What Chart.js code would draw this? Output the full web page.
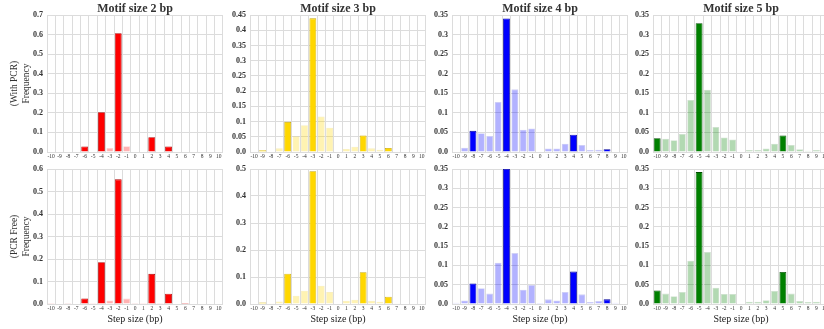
<!DOCTYPE html>
<html>
<head>
<meta charset="utf-8">
<script src="https://cdn.jsdelivr.net/npm/chart.js@4"></script>
<style>
html,body{margin:0;padding:0;background:#fff;}
#wrap{position:relative;width:824px;height:329px;overflow:hidden;background:#fff;}
canvas{position:absolute;}
</style>
</head>
<body>
<div id="wrap"></div>
<script>
// ---- data ----
const steps = [-10,-9,-8,-7,-6,-5,-4,-3,-2,-1,0,1,2,3,4,5,6,7,8,9,10];
const motifSizes = [2,3,4,5];
const panelTitles = ['Motif size 2 bp','Motif size 3 bp','Motif size 4 bp','Motif size 5 bp'];
const rowLabels = [['(With PCR)','Frequency'],['(PCR Free)','Frequency']];
const xTitle = 'Step size (bp)';
const xTickLabels = ['-10','-9','-8','-7','-6','-5','-4','-3','-2','-1','0','1','2','3','4','5','6','7','8','9','10'];

// With PCR
const pcr2 = [0,0,0,0,0.028,0,0.203,0.02,0.607,0.03,0,0,0.075,0,0.028,0,0.002,0,0,0,0];
const pcr3 = [0,0.006,0.002,0.012,0.099,0.052,0.088,0.439,0.117,0.08,0,0.01,0.017,0.054,0.012,0.007,0.013,0.002,0,0,0];
const pcr4 = [0,0.011,0.054,0.048,0.041,0.128,0.341,0.16,0.057,0.06,0,0.009,0.009,0.021,0.044,0.018,0.005,0.006,0.007,0,0];
const pcr5 = [0.035,0.034,0.03,0.046,0.133,0.329,0.159,0.064,0.037,0.032,0,0.005,0.005,0.009,0.021,0.042,0.018,0.007,0.003,0.005,0];
// PCR Free
const free2 = [0.001,0,0.003,0,0.025,0.005,0.186,0.016,0.554,0.024,0.003,0.005,0.134,0.004,0.046,0,0.005,0,0.002,0,0];
const free3 = [0,0.006,0.003,0.009,0.112,0.031,0.049,0.492,0.068,0.044,0.002,0.012,0.016,0.118,0.012,0.008,0.027,0.001,0,0.002,0];
const free4 = [0.003,0.009,0.053,0.041,0.027,0.107,0.35,0.132,0.037,0.049,0.002,0.012,0.009,0.031,0.084,0.025,0.005,0.008,0.012,0.003,0];
const free5 = [0.035,0.027,0.02,0.031,0.112,0.342,0.135,0.042,0.026,0.026,0.001,0.006,0.006,0.01,0.034,0.083,0.027,0.008,0.005,0.006,0];

// y-axis tick labels per panel
const yTicks070 = ['0.0','0.1','0.2','0.3','0.4','0.5','0.6','0.7'];
const yTicks045 = ['0.0','0.05','0.1','0.15','0.2','0.25','0.3','0.35','0.4','0.45'];
const yTicks035 = ['0.0','0.05','0.1','0.15','0.2','0.25','0.3','0.35'];
const yTicks060 = ['0.0','0.1','0.2','0.3','0.4','0.5','0.6'];
const yTicks050 = ['0.0','0.1','0.2','0.3','0.4','0.5'];

const rows = [[pcr2,pcr3,pcr4,pcr5],[free2,free3,free4,free5]];
const yMax = [[0.7,0.45,0.35,0.35],[0.6,0.5,0.35,0.35]];
const yStep = [[0.1,0.05,0.05,0.05],[0.1,0.1,0.05,0.05]];
const yLabels = [[yTicks070,yTicks045,yTicks035,yTicks035],[yTicks060,yTicks050,yTicks035,yTicks035]];

// ---- styles ----
const darkFill = ['#ff0000','#ffd700','#0000ff','#008000'];
const darkEdge = ['#b00000','#c9a800','#00009a','#004d00'];
const lightFill = ['rgba(255,0,0,0.3)','rgba(255,215,0,0.3)','rgba(0,0,255,0.3)','rgba(0,128,0,0.3)'];
const lightEdge = ['rgba(255,0,0,0.18)','rgba(230,190,0,0.25)','rgba(0,0,200,0.18)','rgba(0,100,0,0.18)'];

const plotLefts = [47,250,452,653];
const plotW = 176;
const FONT = "'Liberation Serif', 'DejaVu Serif', serif";
const gridColor = '#dcdcdc';
const wrap = document.getElementById('wrap');

for (let r = 0; r < 2; r++) {
  for (let c = 0; c < 4; c++) {
    const yw = c === 0 ? 47 : 36;
    const left = plotLefts[c] - yw;
    const padR = 6;
    const width = yw + plotW + padR;
    const top = r === 0 ? 0 : 160;
    const height = r === 0 ? 162 : 169;
    const cv = document.createElement('canvas');
    cv.width = width; cv.height = height;
    cv.style.left = left + 'px'; cv.style.top = top + 'px';
    cv.style.width = width + 'px'; cv.style.height = height + 'px';
    wrap.appendChild(cv);
    const m = motifSizes[c];
    const isDark = (ctx) => steps[ctx.dataIndex] % m === 0;
    const labels = yLabels[r][c];
    new Chart(cv.getContext('2d'), {
      type: 'bar',
      data: {
        labels: steps,
        datasets: [{
          data: rows[r][c],
          backgroundColor: (ctx) => isDark(ctx) ? darkFill[c] : lightFill[c],
          borderColor: (ctx) => isDark(ctx) ? darkEdge[c] : lightEdge[c],
          borderWidth: 0.8,
          barPercentage: 0.82,
          categoryPercentage: 1.0,
          clip: 0
        }]
      },
      options: {
        responsive: false,
        animation: false,
        devicePixelRatio: 1,
        layout: { padding: { top: r === 0 ? 0 : 9, right: padR, bottom: 0, left: 0 } },
        plugins: {
          legend: { display: false },
          tooltip: { enabled: false },
          title: {
            display: r === 0,
            fullSize: false,
            text: panelTitles[c],
            color: '#333',
            font: { family: FONT, size: 12, weight: 'bold', lineHeight: 1 },
            padding: { top: 3, bottom: 0 }
          }
        },
        scales: {
          x: {
            type: 'linear',
            min: -10, max: 10,
            grid: { color: gridColor, lineWidth: 1, drawTicks: false },
            border: { display: false },
            ticks: {
              stepSize: 1, autoSkip: false, maxRotation: 0, minRotation: 0,
              padding: 1.5, color: '#333',
              font: { family: FONT, size: 5.5 },
              callback: (v, i) => xTickLabels[i]
            },
            title: {
              display: r === 1,
              text: xTitle,
              color: '#222',
              font: { family: FONT, size: 10 },
              padding: { top: 0, bottom: 4 }
            },
            afterFit: (s) => { s.height = r === 0 ? 10 : 25; }
          },
          y: {
            min: 0, max: yMax[r][c],
            grid: { color: gridColor, lineWidth: 1, drawTicks: false },
            border: { display: false },
            ticks: {
              stepSize: yStep[r][c], padding: 4, color: '#333',
              font: { family: FONT, size: 8, weight: 'bold' },
              callback: (v, i) => labels[i]
            },
            title: {
              display: c === 0,
              text: rowLabels[r],
              color: '#333',
              font: { family: FONT, size: 9.5, lineHeight: 1.25 },
              padding: { top: 9, bottom: 0 }
            },
            afterFit: (s) => { s.width = yw; }
          }
        }
      }
    });
  }
}
</script>
</body>
</html>
